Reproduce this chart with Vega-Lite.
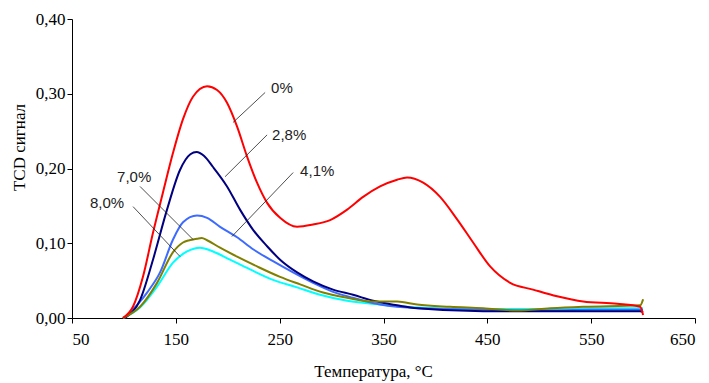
{
  "$schema": "https://vega.github.io/schema/vega-lite/v6.json",
  "autosize": "none",
  "width": 623,
  "height": 299,
  "padding": {"left": 72, "top": 19, "right": 14, "bottom": 65},
  "background": "white",
  "config": {"view": {"stroke": null}},
  "datasets": {
    "curves": [
      {"s": "8,0%", "t": 99, "v": 0}, {"s": "8,0%", "t": 115.5, "v": 0.014}, {"s": "8,0%", "t": 131.9, "v": 0.042}, {"s": "8,0%", "t": 147.3, "v": 0.074}, {"s": "8,0%", "t": 160.8, "v": 0.089}, {"s": "8,0%", "t": 173.3, "v": 0.094}, {"s": "8,0%", "t": 185.8, "v": 0.089}, {"s": "8,0%", "t": 202.2, "v": 0.078}, {"s": "8,0%", "t": 221.5, "v": 0.065}, {"s": "8,0%", "t": 243.6, "v": 0.051}, {"s": "8,0%", "t": 266.8, "v": 0.041}, {"s": "8,0%", "t": 288.9, "v": 0.031}, {"s": "8,0%", "t": 315, "v": 0.023}, {"s": "8,0%", "t": 346.7, "v": 0.018}, {"s": "8,0%", "t": 400, "v": 0.013}, {"s": "8,0%", "t": 450, "v": 0.012}, {"s": "8,0%", "t": 500, "v": 0.012}, {"s": "8,0%", "t": 550, "v": 0.013}, {"s": "8,0%", "t": 600, "v": 0.013},
      {"s": "4,1%", "t": 101, "v": 0}, {"s": "4,1%", "t": 122.3, "v": 0.034}, {"s": "4,1%", "t": 134.8, "v": 0.061}, {"s": "4,1%", "t": 147.3, "v": 0.105}, {"s": "4,1%", "t": 156.9, "v": 0.128}, {"s": "4,1%", "t": 170.4, "v": 0.137}, {"s": "4,1%", "t": 180.1, "v": 0.134}, {"s": "4,1%", "t": 192.6, "v": 0.122}, {"s": "4,1%", "t": 209, "v": 0.108}, {"s": "4,1%", "t": 224.4, "v": 0.092}, {"s": "4,1%", "t": 243.6, "v": 0.076}, {"s": "4,1%", "t": 262.9, "v": 0.061}, {"s": "4,1%", "t": 282.2, "v": 0.047}, {"s": "4,1%", "t": 301.4, "v": 0.035}, {"s": "4,1%", "t": 320.7, "v": 0.027}, {"s": "4,1%", "t": 346.7, "v": 0.018}, {"s": "4,1%", "t": 385, "v": 0.013}, {"s": "4,1%", "t": 450, "v": 0.011}, {"s": "4,1%", "t": 500, "v": 0.01}, {"s": "4,1%", "t": 550, "v": 0.011}, {"s": "4,1%", "t": 600, "v": 0.011},
      {"s": "2,8%", "t": 101, "v": 0}, {"s": "2,8%", "t": 115.5, "v": 0.024}, {"s": "2,8%", "t": 128, "v": 0.078}, {"s": "2,8%", "t": 141.5, "v": 0.145}, {"s": "2,8%", "t": 154, "v": 0.198}, {"s": "2,8%", "t": 164, "v": 0.219}, {"s": "2,8%", "t": 170, "v": 0.222}, {"s": "2,8%", "t": 177, "v": 0.217}, {"s": "2,8%", "t": 185.8, "v": 0.202}, {"s": "2,8%", "t": 199.3, "v": 0.176}, {"s": "2,8%", "t": 211.8, "v": 0.145}, {"s": "2,8%", "t": 224.4, "v": 0.118}, {"s": "2,8%", "t": 237.9, "v": 0.096}, {"s": "2,8%", "t": 250.4, "v": 0.078}, {"s": "2,8%", "t": 266.8, "v": 0.061}, {"s": "2,8%", "t": 282.2, "v": 0.049}, {"s": "2,8%", "t": 301.4, "v": 0.038}, {"s": "2,8%", "t": 320.7, "v": 0.031}, {"s": "2,8%", "t": 340, "v": 0.023}, {"s": "2,8%", "t": 363.1, "v": 0.017}, {"s": "2,8%", "t": 382.4, "v": 0.013}, {"s": "2,8%", "t": 446, "v": 0.009}, {"s": "2,8%", "t": 510.5, "v": 0.009}, {"s": "2,8%", "t": 597, "v": 0.009}, {"s": "2,8%", "t": 600, "v": 0.008},
      {"s": "7,0%", "t": 99, "v": 0}, {"s": "7,0%", "t": 115.5, "v": 0.015}, {"s": "7,0%", "t": 131.9, "v": 0.047}, {"s": "7,0%", "t": 147.3, "v": 0.088}, {"s": "7,0%", "t": 156.9, "v": 0.101}, {"s": "7,0%", "t": 163, "v": 0.104}, {"s": "7,0%", "t": 170.4, "v": 0.106}, {"s": "7,0%", "t": 175, "v": 0.107}, {"s": "7,0%", "t": 180.1, "v": 0.104}, {"s": "7,0%", "t": 192.6, "v": 0.094}, {"s": "7,0%", "t": 209, "v": 0.082}, {"s": "7,0%", "t": 228.2, "v": 0.069}, {"s": "7,0%", "t": 250.4, "v": 0.055}, {"s": "7,0%", "t": 269.7, "v": 0.045}, {"s": "7,0%", "t": 291.8, "v": 0.034}, {"s": "7,0%", "t": 314.9, "v": 0.027}, {"s": "7,0%", "t": 337.1, "v": 0.022}, {"s": "7,0%", "t": 363.1, "v": 0.022}, {"s": "7,0%", "t": 382.4, "v": 0.018}, {"s": "7,0%", "t": 414.2, "v": 0.015}, {"s": "7,0%", "t": 446, "v": 0.013}, {"s": "7,0%", "t": 478.7, "v": 0.01}, {"s": "7,0%", "t": 510.5, "v": 0.013}, {"s": "7,0%", "t": 542.3, "v": 0.015}, {"s": "7,0%", "t": 597.2, "v": 0.017}, {"s": "7,0%", "t": 600, "v": 0.025},
      {"s": "0%", "t": 99, "v": 0}, {"s": "0%", "t": 108.8, "v": 0.0154}, {"s": "0%", "t": 118.4, "v": 0.0555}, {"s": "0%", "t": 128, "v": 0.114}, {"s": "0%", "t": 137.6, "v": 0.168}, {"s": "0%", "t": 147.3, "v": 0.221}, {"s": "0%", "t": 156.9, "v": 0.266}, {"s": "0%", "t": 166.5, "v": 0.296}, {"s": "0%", "t": 180.1, "v": 0.31}, {"s": "0%", "t": 189.7, "v": 0.305}, {"s": "0%", "t": 199.3, "v": 0.288}, {"s": "0%", "t": 209, "v": 0.256}, {"s": "0%", "t": 218.6, "v": 0.216}, {"s": "0%", "t": 228.2, "v": 0.181}, {"s": "0%", "t": 237.9, "v": 0.154}, {"s": "0%", "t": 250.4, "v": 0.134}, {"s": "0%", "t": 266.8, "v": 0.122}, {"s": "0%", "t": 282.2, "v": 0.125}, {"s": "0%", "t": 298.6, "v": 0.131}, {"s": "0%", "t": 315, "v": 0.145}, {"s": "0%", "t": 330.4, "v": 0.162}, {"s": "0%", "t": 346.7, "v": 0.176}, {"s": "0%", "t": 363.1, "v": 0.185}, {"s": "0%", "t": 372.7, "v": 0.188}, {"s": "0%", "t": 388.2, "v": 0.181}, {"s": "0%", "t": 404.5, "v": 0.162}, {"s": "0%", "t": 420.9, "v": 0.132}, {"s": "0%", "t": 436.3, "v": 0.101}, {"s": "0%", "t": 452.7, "v": 0.069}, {"s": "0%", "t": 472, "v": 0.047}, {"s": "0%", "t": 494, "v": 0.038}, {"s": "0%", "t": 517.2, "v": 0.029}, {"s": "0%", "t": 542.3, "v": 0.022}, {"s": "0%", "t": 575, "v": 0.019}, {"s": "0%", "t": 597.2, "v": 0.015}, {"s": "0%", "t": 600, "v": 0.004}
    ],
    "labels": [
      {"label": "0%", "t": 241.7, "v": 0.308},
      {"label": "2,8%", "t": 242.7, "v": 0.245},
      {"label": "4,1%", "t": 269.7, "v": 0.196},
      {"label": "7,0%", "t": 93.4, "v": 0.189},
      {"label": "8,0%", "t": 67.3, "v": 0.154}
    ],
    "leaders": [
      {"t": 236, "v": 0.3017, "t2": 205, "v2": 0.2615},
      {"t": 237.9, "v": 0.245, "t2": 197.4, "v2": 0.189},
      {"t": 263, "v": 0.1946, "t2": 204, "v2": 0.109},
      {"t": 115.5, "v": 0.176, "t2": 166.6, "v2": 0.105},
      {"t": 108.8, "v": 0.149, "t2": 154, "v2": 0.0823}
    ]
  },
  "layer": [
    {
      "data": {"name": "curves"},
      "mark": {"type": "line", "strokeWidth": 2, "interpolate": "monotone"},
      "encoding": {
        "x": {
          "field": "t", "type": "quantitative",
          "scale": {"domain": [50, 650], "nice": false, "zero": false},
          "axis": {
            "values": [50, 150, 250, 350, 450, 550, 650],
            "grid": false, "domainColor": "#000", "tickColor": "#000", "tickSize": 5,
            "labelFont": "Liberation Serif", "labelFontSize": 17, "labelColor": "#000", "labelPadding": 8,
            "title": "Температура, °C", "titleFont": "Liberation Serif", "titleFontSize": 17, "titleFontWeight": "normal", "titleColor": "#000",
            "titleX": 301, "titleY": 53, "titleBaseline": "middle"
          }
        },
        "y": {
          "field": "v", "type": "quantitative",
          "scale": {"domain": [0, 0.4], "nice": false},
          "axis": {
            "values": [0, 0.1, 0.2, 0.3, 0.4],
            "labelExpr": "replace(format(datum.value, '.2f'), '.', ',')",
            "grid": false, "domainColor": "#000", "tickColor": "#000", "tickSize": 5,
            "labelFont": "Liberation Serif", "labelFontSize": 17, "labelColor": "#000", "labelPadding": 2,
            "title": "TCD сигнал", "titleFont": "Liberation Serif", "titleFontSize": 17, "titleFontWeight": "normal", "titleColor": "#000",
            "titleX": -53, "titleY": 128, "titleBaseline": "middle"
          }
        },
        "color": {
          "field": "s", "type": "nominal",
          "scale": {"domain": ["8,0%", "4,1%", "2,8%", "7,0%", "0%"], "range": ["#00FFFF", "#3D6BFF", "#000080", "#808000", "#FF0000"]},
          "legend": null
        }
      }
    },
    {
      "data": {"name": "leaders"},
      "mark": {"type": "rule", "color": "#222", "strokeWidth": 0.8},
      "encoding": {
        "x": {"field": "t", "type": "quantitative"},
        "y": {"field": "v", "type": "quantitative"},
        "x2": {"field": "t2"},
        "y2": {"field": "v2"}
      }
    },
    {
      "data": {"name": "labels"},
      "mark": {"type": "text", "align": "left", "baseline": "middle", "font": "Liberation Sans", "fontSize": 15, "color": "#222"},
      "encoding": {
        "x": {"field": "t", "type": "quantitative"},
        "y": {"field": "v", "type": "quantitative"},
        "text": {"field": "label", "type": "nominal"}
      }
    }
  ]
}
